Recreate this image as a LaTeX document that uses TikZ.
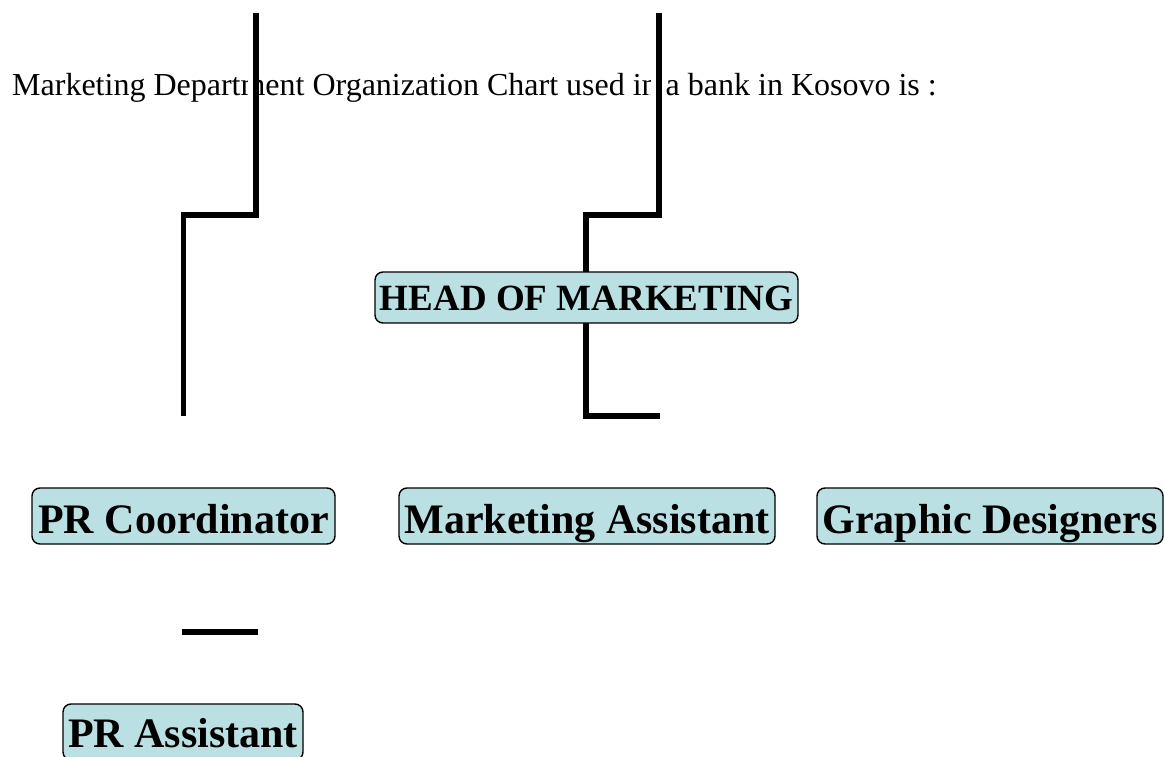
\documentclass[tikz,border=0pt]{standalone}
\usepackage{fontspec}
\setmainfont{Liberation Serif}
\definecolor{boxfill}{HTML}{BBE0E3}
\tikzset{
  orgbox/.style={draw=black, line width=1.4pt, fill=boxfill, rounded corners=8pt,
    inner sep=0pt, font=\bfseries\fontsize{42}{48}\selectfont,
    text height=34pt, text depth=0pt, minimum height=56pt},
  conn/.style={draw=black, line width=5.5pt, line cap=butt, line join=miter},
  halo/.style={draw=white, line width=9pt}
}
\begin{document}
\begin{tikzpicture}[x=1pt,y=-1pt]
\clip (0,0) rectangle (1165,757);
\fill[white] (0,0) rectangle (1165,757);
\node[anchor=base west, inner sep=0pt, font=\fontsize{32}{38}\selectfont] (title) at (12,96)
  {Marketing Department Organization Chart used in a bank in Kosovo is :};
% connector coordinates
\coordinate (a1) at (256,13);
\coordinate (a2) at (256,215);
\coordinate (a3) at (183.5,215);
\coordinate (a4) at (183.5,416);
\coordinate (ah1) at (252,13);
\coordinate (ah2) at (252,200);
\coordinate (b1) at (659,13);
\coordinate (b2) at (659,215);
\coordinate (b3) at (586,215);
\coordinate (b4) at (586,416);
\coordinate (b5) at (660,416);
\coordinate (bh1) at (655,13);
\coordinate (bh2) at (655,200);
\coordinate (c1) at (182,632);
\coordinate (c2) at (258,632);
% white halos under the upper connectors
\draw[halo] (ah1) -- (ah2);
\draw[halo] (bh1) -- (bh2);
% connectors
\draw[conn] (a1) -- (a2) -- (a3) -- (a4);
\draw[conn] (b1) -- (b2) -- (b3) -- (b4) -- (b5);
\draw[conn] (c1) -- (c2);
% boxes
\node[orgbox, minimum width=423pt, minimum height=51pt, text height=25pt,
  font=\bfseries\fontsize{37}{44}\selectfont] (head) at (586.5,297.5) {HEAD OF MARKETING};
\node[orgbox, minimum width=303pt] (prc) at (183.5,516) {PR Coordinator};
\node[orgbox, minimum width=376pt] (ma) at (587,516) {Marketing Assistant};
\node[orgbox, minimum width=346pt] (gd) at (990,516) {Graphic Designers};
\node[orgbox, minimum width=240pt, text height=30pt] (pra) at (183,732) {PR Assistant};
\end{tikzpicture}
\end{document}
